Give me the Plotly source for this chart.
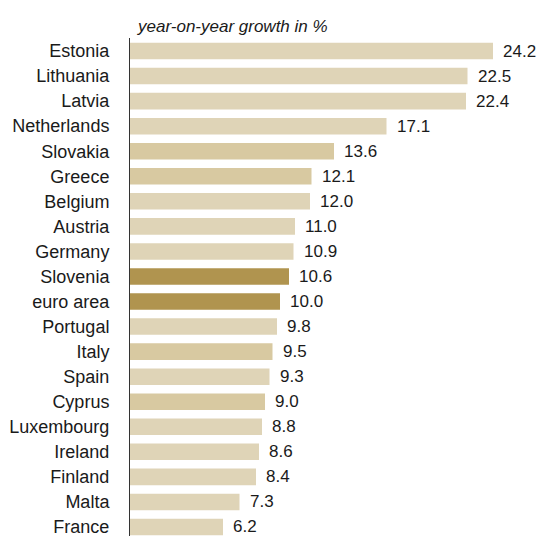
import plotly.graph_objects as go

countries = ["Estonia", "Lithuania", "Latvia", "Netherlands", "Slovakia", "Greece",
             "Belgium", "Austria", "Germany", "Slovenia", "euro area", "Portugal",
             "Italy", "Spain", "Cyprus", "Luxembourg", "Ireland", "Finland", "Malta", "France"]
values = [24.2, 22.5, 22.4, 17.1, 13.6, 12.1, 12.0, 11.0, 10.9, 10.6, 10.0, 9.8,
          9.5, 9.3, 9.0, 8.8, 8.6, 8.4, 7.3, 6.2]
groups = ["l", "l", "l", "l", "m", "m", "l", "l", "l", "d", "d", "l",
          "m", "l", "m", "l", "l", "l", "l", "l"]
palette = {"l": "#dfd4b7", "m": "#d8c9a1", "d": "#b0944f"}
title_text = "year-on-year growth in %"

FONT = "Liberation Sans Narrow, Arial Narrow, Liberation Sans, Arial, sans-serif"
pos = list(range(len(countries)))

fig = go.Figure()
fig.add_trace(go.Bar(
    x=values, y=pos, orientation="h", width=0.66,
    marker=dict(color=[palette[g] for g in groups], line=dict(width=0)),
    hoverinfo="skip",
))

for v, p in zip(values, pos):
    fig.add_annotation(x=v, y=p, xref="x", yref="y", text=f"{v:.1f}",
                       showarrow=False, xanchor="left", xshift=8,
                       font=dict(family=FONT, size=17, color="#1a1a1a"))

fig.add_annotation(x=0, y=1, xref="paper", yref="paper", text=f"<i>{title_text}</i>",
                   showarrow=False, xanchor="left", yanchor="bottom", xshift=5, yshift=0,
                   font=dict(family=FONT, size=17, color="#1a1a1a"))

fig.update_layout(
    width=536, height=536,
    margin=dict(l=130, r=1, t=38, b=0),
    paper_bgcolor="white", plot_bgcolor="white",
    showlegend=False,
    xaxis=dict(range=[0, 27], showgrid=False, zeroline=False, showticklabels=False,
               showline=False, ticks=""),
    yaxis=dict(range=[19.36, -0.52], tickvals=pos, ticktext=countries,
               showgrid=False, zeroline=False, showline=True, linecolor="#333333",
               linewidth=1, ticks="", ticklabelstandoff=16, ticklabeloverflow="allow",
               tickfont=dict(family=FONT, size=18, color="#1a1a1a")),
)

fig.write_html("out.html")
